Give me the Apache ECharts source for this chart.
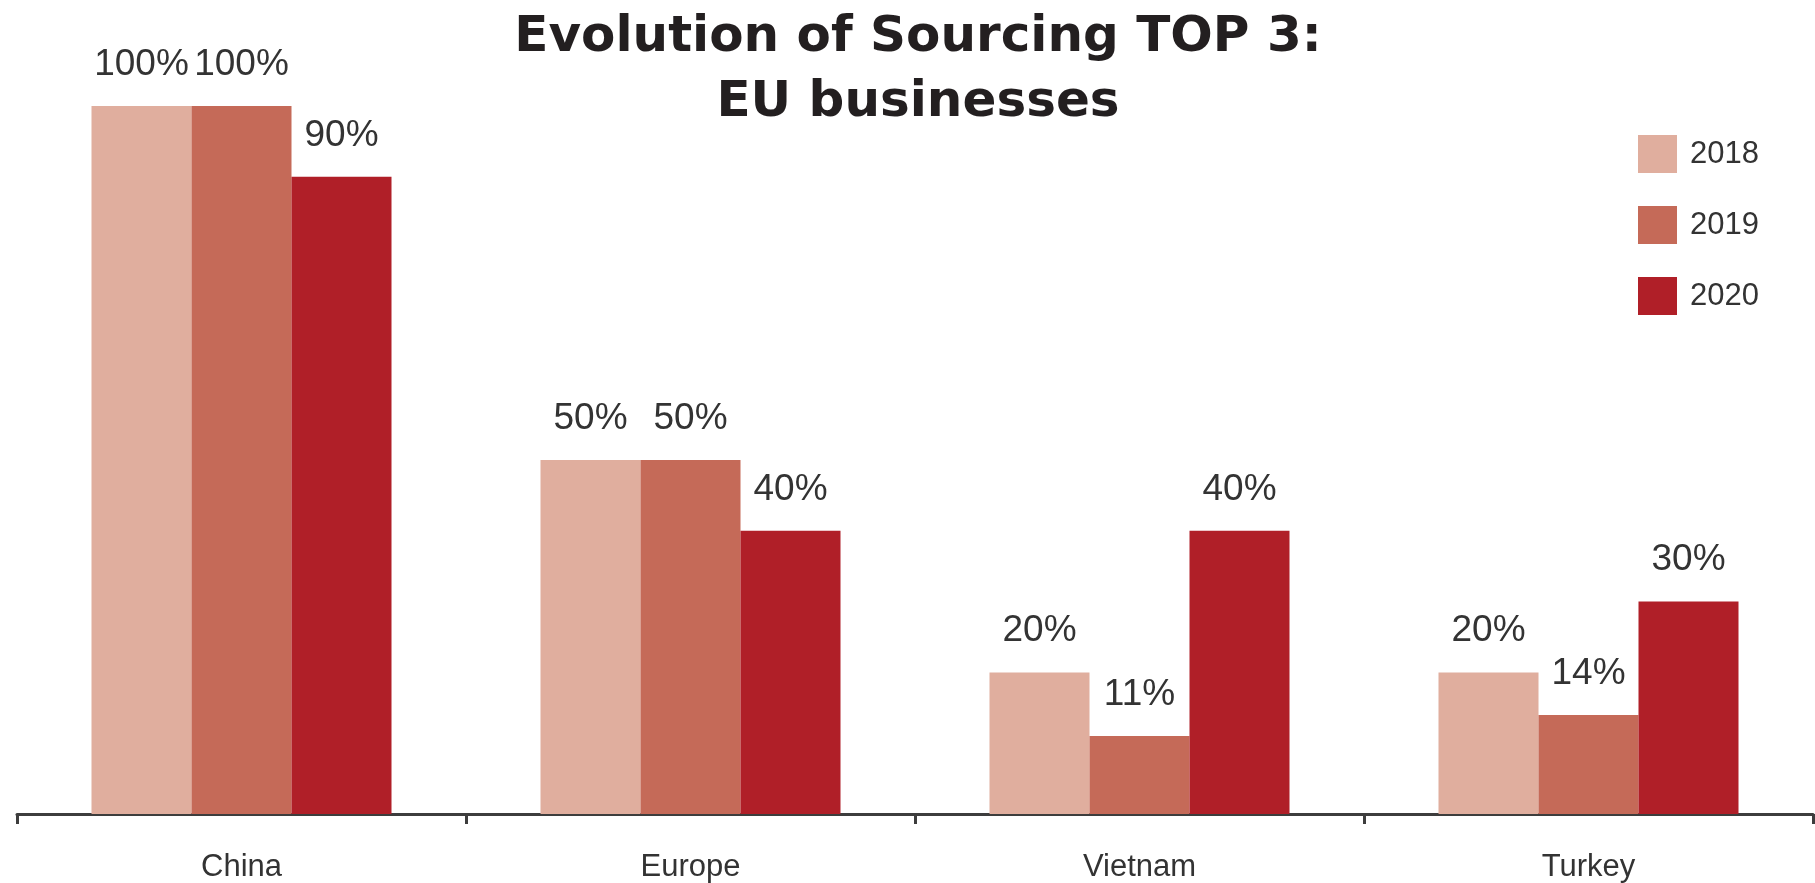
<!DOCTYPE html>
<html>
<head>
<meta charset="utf-8">
<script src="https://cdn.jsdelivr.net/npm/echarts@6/dist/echarts.min.js"></script>
<style>
html,body{margin:0;padding:0;background:#fff;}
#chart{width:1815px;height:883px;}
</style>
</head>
<body>
<div id="chart"></div>
<script>
const categories = ['China', 'Europe', 'Vietnam', 'Turkey'];
const seriesNames = ['2018', '2019', '2020'];
const values2018 = [100, 50, 20, 20];
const values2019 = [100, 50, 11, 14];
const values2020 = [90, 40, 40, 30];
const colors = ['#E0AE9E', '#C56A58', '#B01F28'];

const allValues = [values2018, values2019, values2020];

const chart = echarts.init(document.getElementById('chart'), null, {renderer: 'canvas'});

const series = seriesNames.map((name, i) => ({
  name: name,
  type: 'bar',
  data: allValues[i],
  barWidth: 100,
  barGap: '0%',
  itemStyle: { color: colors[i] },
  label: {
    show: true,
    position: 'top',
    distance: 23,
    formatter: '{c}%',
    fontFamily: 'Liberation Sans',
    fontSize: 37,
    color: '#333333'
  }
}));

chart.setOption({
  animation: false,
  backgroundColor: '#ffffff',
  title: {
    text: 'Evolution of Sourcing TOP 3:\nEU businesses',
    left: 918,
    top: 6,
    padding: 0,
    textAlign: 'center',
    textStyle: {
      fontFamily: 'DejaVu Sans',
      fontWeight: 'bold',
      fontSize: 50,
      lineHeight: 65,
      color: '#231f20'
    }
  },
  legend: {
    orient: 'vertical',
    left: 1638,
    top: 135,
    padding: 0,
    itemWidth: 39,
    itemHeight: 38,
    itemGap: 33,
    icon: 'rect',
    data: seriesNames,
    textStyle: {
      fontFamily: 'Liberation Sans',
      fontSize: 31,
      color: '#333333',
      padding: [0, 0, 0, 8]
    }
  },
  grid: {
    left: 17,
    right: 2,
    top: 106,
    bottom: 68,
    containLabel: false
  },
  xAxis: {
    type: 'category',
    data: categories,
    axisLine: { show: true, lineStyle: { color: '#3d3d3d', width: 3 } },
    axisTick: { show: true, length: 10, lineStyle: { color: '#3d3d3d', width: 3 } },
    axisLabel: {
      margin: 38,
      fontFamily: 'Liberation Sans',
      fontSize: 31,
      color: '#333333'
    }
  },
  yAxis: {
    type: 'value',
    min: 0,
    max: 100,
    show: false,
    splitLine: { show: false }
  },
  series: series
});
</script>
</body>
</html>
